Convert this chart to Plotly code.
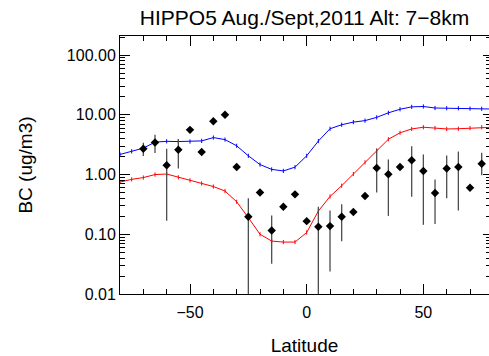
import plotly.graph_objects as go

# Model latitudes (every 5 degrees)
lat_model = list(range(-80, 85, 5))
bc_blue = [2.17, 2.45, 2.77, 3.49, 3.60, 3.57, 3.57, 3.66, 4.16, 3.85, 3.03,
           2.06, 1.47, 1.22, 1.15, 1.33, 2.06, 3.64, 5.85, 6.82, 7.55, 8.00,
           9.06, 10.8, 12.4, 13.6, 13.8, 13.0, 12.9, 12.9, 12.7, 12.6, 12.5]
bc_red = [0.75, 0.83, 0.89, 1.00, 1.02, 0.90, 0.80, 0.71, 0.63, 0.53, 0.35,
          0.19, 0.100, 0.077, 0.074, 0.074, 0.107, 0.245, 0.43, 0.65, 1.02, 1.60,
          2.53, 3.90, 5.00, 5.80, 6.20, 6.00, 5.80, 5.85, 6.00, 6.20, 6.20]

# Observed BC (binned by latitude) with upper / lower range (None = no bar)
obs_lat = [-70, -65, -60, -55, -50, -45, -40, -35, -30, -25, -20, -15, -10, -5, 0,
           5, 10, 15, 20, 25, 30, 35, 40, 45, 50, 55, 60, 65, 70, 75]
obs_bc = [2.70, 3.43, 1.43, 2.60, 5.60, 2.38, 7.80, 10.0, 1.34, 0.196, 0.50, 0.116,
          0.29, 0.466, 0.166, 0.134, 0.137, 0.196, 0.237, 0.437, 1.29, 1.01, 1.34,
          1.73, 1.15, 0.49, 1.26, 1.34, 0.60, 1.52]
obs_hi = [3.40, 4.66, 2.70, 3.95, None, None, None, None, None, 0.40, None, 0.206,
          None, None, None, 0.288, 0.25, 0.318, None, None, 2.70, 1.79, None,
          2.99, 2.17, 0.826, 2.09, 2.43, None, 2.32]
obs_lo = [2.05, 2.29, 0.168, 1.26, None, None, None, None, None, 0.001, None, 0.032,
          None, None, None, 0.001, 0.0237, 0.0765, None, None, 0.50, 0.203, None,
          0.427, 0.144, 0.148, 0.40, 0.25, None, 0.975]

y_major = [0.01, 0.1, 1, 10, 100]
y_major_text = ["0.01", "0.10", "1.00", "10.00", "100.00"]
y_minor = [k * 10.0 ** e for e in range(-2, 3) for k in range(2, 10)]

err_plus = [(h - v) if h is not None else 0 for v, h in zip(obs_bc, obs_hi)]
err_minus = [(v - l) if l is not None else 0 for v, l in zip(obs_bc, obs_lo)]

FONT = "Liberation Sans, Arial, sans-serif"

fig = go.Figure()

for vals, col in ((bc_blue, "#0000ff"), (bc_red, "#ff0000")):
    fig.add_trace(go.Scatter(
        x=lat_model, y=vals, mode="lines+markers",
        line=dict(color=col, width=1),
        marker=dict(symbol="line-ns", size=3, color=col,
                    line=dict(color=col, width=1)),
        showlegend=False, hoverinfo="skip"))

fig.add_trace(go.Scatter(
    x=obs_lat, y=obs_bc, mode="markers",
    marker=dict(symbol="diamond", size=6.5, color="black"),
    error_y=dict(type="data", symmetric=False, array=err_plus,
                 arrayminus=err_minus, color="#4d4d4d", thickness=1.3, width=0),
    showlegend=False, hoverinfo="skip"))

# right-hand tick marks
fig.add_trace(go.Scatter(x=[0], y=[1], yaxis="y2", mode="markers",
                         marker=dict(opacity=0), showlegend=False,
                         hoverinfo="skip"))

yrange = [-2, 2.32]

fig.update_layout(
    width=489, height=356,
    margin=dict(l=120, r=0, t=36, b=59),
    paper_bgcolor="white", plot_bgcolor="white",
    font=dict(family=FONT, size=16, color="black"),
    title=dict(text="HIPPO5 Aug./Sept,2011 Alt: 7\u22128km",
               font=dict(family=FONT, size=21, color="black"),
               x=0.5, xref="paper", xanchor="center",
               y=1 - 18 / 356, yref="container", yanchor="middle"),
    xaxis=dict(
        range=[-80, 78.13], showgrid=False, zeroline=False,
        showline=True, linecolor="black", linewidth=1, mirror="ticks",
        ticks="inside", ticklen=10, tickwidth=1, tickcolor="black",
        tickvals=[-50, 0, 50], ticktext=["\u221250", "0", "50"],
        ticklabelstandoff=4,
        minor=dict(ticks="inside", ticklen=5, tickwidth=1, tickcolor="black",
                   dtick=10, tick0=0, showgrid=False),
        title=dict(text="Latitude", standoff=21),
        tickfont=dict(size=16),
    ),
    yaxis=dict(
        type="log", range=yrange, showgrid=False, zeroline=False,
        showline=True, linecolor="black", linewidth=1,
        ticks="inside", ticklen=10, tickwidth=1, tickcolor="black",
        tickvals=y_major, ticktext=y_major_text,
        minor=dict(ticks="inside", ticklen=5, tickwidth=1, tickcolor="black",
                   tickvals=y_minor, showgrid=False),
        title=dict(text="BC (ug/m3)", standoff=29),
        tickfont=dict(size=16),
    ),
    yaxis2=dict(
        type="log", range=yrange, overlaying="y", side="right",
        showgrid=False, zeroline=False, showline=False, showticklabels=False,
        ticks="inside", ticklen=6, tickwidth=1, tickcolor="black",
        tickvals=y_major,
        minor=dict(ticks="inside", ticklen=3, tickwidth=1, tickcolor="black",
                   tickvals=y_minor, showgrid=False),
    ),
)

fig.write_html("out.html")
